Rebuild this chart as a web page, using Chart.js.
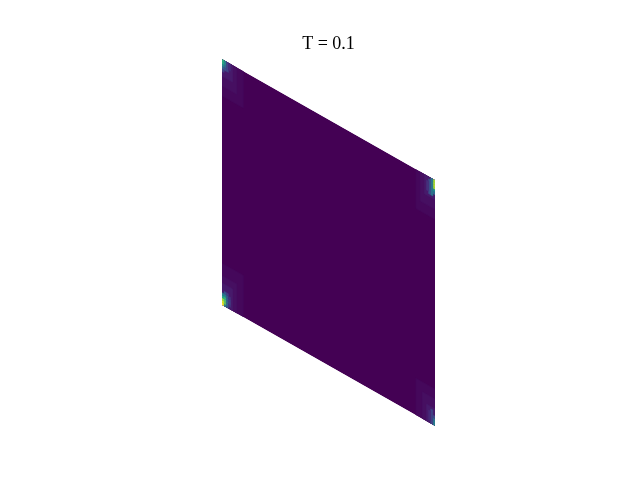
<!DOCTYPE html>
<html>
<head>
<meta charset="utf-8">
<script src="https://cdn.jsdelivr.net/npm/chart.js@4/dist/chart.umd.min.js"></script>
<style>
html,body{margin:0;padding:0;background:#fff;}
canvas{display:block;}
</style>
</head>
<body>
<canvas id="c" width="640" height="480"></canvas>
<script>
// ---- data ----
const titleText = "T = 0.1";
const gridCols = 100;
const gridRows = 100;
const baseValue = 0.0;
// patches of cells (inclusive index ranges) and their value, drawn in order
const patchColStart = [
  0, 0, 0,   0, 0, 0,   91, 93, 95,   91, 94, 96,
  0,0,0,0,0, 1,1,1,1,1,1, 2,2,2,2,2,2, 3,3,3,3,
  99,99,99,99,99,99, 98, 97, 96,
  0,0,0,0,0, 1,1,1,1, 2, 3,
  99,99,99,99, 98, 97];
const patchColEnd = [
  9, 6, 4,   9, 6, 4,   99, 99, 99,   99, 99, 99,
  0,0,0,0,0, 1,1,1,1,1,1, 2,2,2,2,2,2, 3,3,3,3,
  99,99,99,99,99,99, 98, 97, 96,
  0,0,0,0,0, 1,1,1,1, 2, 3,
  99,99,99,99, 98, 97];
const patchRowStart = [
  0, 0, 0,   85, 89, 93,   84, 88, 92,   0, 0, 0,
  0,1,2,3,4, 0,1,2,3,4,5, 0,1,2,3,4,5, 1,2,3,4,
  96,97,98,99,95,94, 93, 93, 94,
  99,98,97,96,95, 99,98,97,96, 96, 97,
  0,1,2,3, 0, 1];
const patchRowEnd = [
  16, 11, 8,  99, 99, 99,   99, 99, 99,   14, 10, 6,
  0,1,2,3,4, 0,1,2,3,4,5, 0,1,2,3,4,5, 1,2,3,4,
  96,97,98,99,95,94, 99, 98, 97,
  99,98,97,96,95, 99,98,97,96, 99, 99,
  0,1,2,3, 5, 4];
const patchValue = [
  0.02, 0.04, 0.07,  0.02, 0.04, 0.07,  0.02, 0.04, 0.07,  0.02, 0.04, 0.07,
  1.0,0.95,0.85,0.6,0.42, 0.45,0.75,0.72,0.65,0.45,0.28, 0.25,0.32,0.32,0.3,0.28,0.18, 0.15,0.18,0.17,0.14,
  0.86,0.87,0.87,0.86,0.5,0.35, 0.4, 0.25, 0.14,
  0.64,0.62,0.48,0.34,0.2, 0.48,0.47,0.36,0.25, 0.2, 0.12,
  0.44,0.42,0.38,0.22, 0.2, 0.12];

// ---- style ----
const SHEAR = 0.492;
const viridisStops = ["#440154","#482475","#414487","#355f8d","#2a788e","#21918c","#22a884","#44bf70","#7ad151","#bddf26","#fde725"];
function hexToRgb(h){return [parseInt(h.slice(1,3),16),parseInt(h.slice(3,5),16),parseInt(h.slice(5,7),16)];}
const stopsRgb = viridisStops.map(hexToRgb);
function viridis(t){
  t = Math.max(0, Math.min(1, t));
  const p = t * (stopsRgb.length - 1);
  const i = Math.min(Math.floor(p), stopsRgb.length - 2);
  const f = p - i;
  const a = stopsRgb[i], b = stopsRgb[i+1];
  return "rgb(" + [0,1,2].map(k => Math.round(a[k] + (b[k]-a[k])*f)).join(",") + ")";
}

function toData(u, v){ return {x: u, y: v - SHEAR * u}; }

const meshPlugin = {
  id: 'mesh',
  beforeDatasetsDraw(chart){
    const ctx = chart.ctx;
    const xs = chart.scales.x, ys = chart.scales.y;
    function px(u, v){ const d = toData(u, v); return [xs.getPixelForValue(d.x), ys.getPixelForValue(d.y)]; }
    function quad(c0, c1, r0, r1, val, stroke){
      const pts = [px(c0, r0), px(c1, r0), px(c1, r1), px(c0, r1)];
      ctx.beginPath();
      ctx.moveTo(pts[0][0], pts[0][1]);
      for (let k = 1; k < 4; k++) ctx.lineTo(pts[k][0], pts[k][1]);
      ctx.closePath();
      const col = viridis(val);
      ctx.fillStyle = col;
      ctx.fill();
      if (stroke) { ctx.strokeStyle = col; ctx.lineWidth = 0.5; ctx.stroke(); }
    }
    ctx.save();
    const outline = [px(0,0), px(gridCols,0), px(gridCols,gridRows), px(0,gridRows)];
    ctx.beginPath();
    ctx.moveTo(outline[0][0], outline[0][1]);
    for (let k = 1; k < 4; k++) ctx.lineTo(outline[k][0], outline[k][1]);
    ctx.closePath();
    ctx.clip();
    quad(0, gridCols, 0, gridRows, baseValue, false);
    for (let k = 0; k < patchValue.length; k++) {
      quad(patchColStart[k], patchColEnd[k] + 1, patchRowStart[k], patchRowEnd[k] + 1, patchValue[k], true);
    }
    ctx.restore();
  }
};

const corners = [toData(0,0), toData(gridCols,0), toData(gridCols,gridRows), toData(0,gridRows)];

new Chart(document.getElementById('c'), {
  type: 'scatter',
  data: { datasets: [{ data: corners, pointRadius: 0, showLine: false }] },
  options: {
    responsive: false,
    animation: false,
    devicePixelRatio: 1,
    layout: { padding: { left: 222, right: 205, top: 0, bottom: 54 } },
    scales: {
      x: { type: 'linear', min: 0, max: gridCols, display: false },
      y: { type: 'linear', min: -SHEAR * gridCols, max: gridRows, display: false }
    },
    plugins: {
      legend: { display: false },
      tooltip: { enabled: false },
      title: {
        display: true,
        text: titleText,
        color: '#000',
        font: { family: 'Liberation Serif', size: 18, weight: 'normal', lineHeight: 1.2 },
        padding: { top: 33, bottom: 4.4 }
      }
    }
  },
  plugins: [meshPlugin]
});
</script>
</body>
</html>
